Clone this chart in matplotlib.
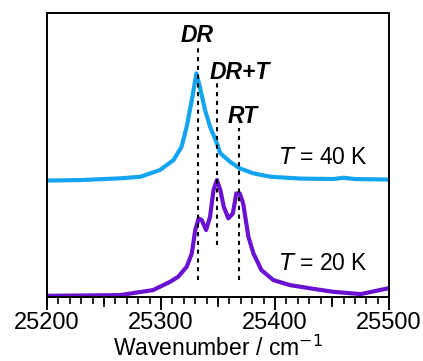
import matplotlib.pyplot as plt
import numpy as np

# spectra (arbitrary offset units)
wn_40k = [25200, 25230, 25264, 25282, 25299, 25311, 25318, 25322.5, 25327, 25331,
          25334, 25338.6, 25343, 25349, 25352, 25360.5, 25369, 25381, 25396, 25422,
          25451, 25460, 25470, 25500]
int_40k = [116.5, 117, 118.7, 120.3, 127, 137, 150.3, 170.3, 197, 223.7,
           210.3, 187, 170.3, 153.7, 143.7, 135.3, 128.7, 123.7, 120.3, 118.5,
           118, 119.3, 118, 117.5]

wn_20k = [25200, 25230, 25264, 25293, 25308, 25315, 25322.5, 25327, 25330, 25333,
          25335.7, 25339.5, 25343, 25346, 25349, 25352, 25355, 25359, 25363, 25366,
          25369, 25372, 25376.6, 25381, 25388, 25398.5, 25413, 25435, 25451, 25475,
          25500]
int_20k = [1.3, 1.6, 2, 7, 15.3, 20.3, 30.3, 43.7, 67, 78.7,
           77, 67, 80.3, 107, 117, 107, 90.3, 78.7, 83.7, 103.7,
           103.7, 93.7, 60.3, 43.7, 27, 17, 12, 8, 5.3, 3,
           9]

# assignments: label, position, dashed line span, label pos
peak_names = ['DR', 'DR+T', 'RT']
peak_pos = [25332, 25349, 25368]
line_top = [249, 214, 169]
line_bot = [17, 52, 17]
label_x = [25332, 25369, 25372]
label_y = [262, 225, 181]

plt.rcParams['font.family'] = ['Liberation Sans', 'DejaVu Sans']

fig = plt.figure(figsize=(4.23, 3.61), dpi=100)
ax = fig.add_axes([0.111, 0.177, 0.809, 0.787])

ax.plot(wn_40k, int_40k, color='#14a5f0', lw=3.0, solid_joinstyle='round')
ax.plot(wn_20k, int_20k, color='#6a12d2', lw=3.0, solid_joinstyle='round')

for p, t, b in zip(peak_pos, line_top, line_bot):
    ax.plot([p, p], [b, t], color='black', lw=1.5, linestyle=(0, (2.0, 2.2)))
for name, lx, ly in zip(peak_names, label_x, label_y):
    ax.text(lx, ly, name, ha='center', va='center', fontsize=16.5,
            fontweight='bold', fontstyle='italic')

ax.text(25403, 140, '$T$ = 40 K', ha='left', va='center', fontsize=16.5)
ax.text(25403, 34, '$T$ = 20 K', ha='left', va='center', fontsize=16.5)

ax.set_xlim(25200, 25500)
ax.set_ylim(0, 284)
ax.set_xticks([25200, 25300, 25400, 25500])
ax.set_xticks(np.arange(25200, 25501, 10), minor=True)
ax.set_yticks([])
ax.tick_params(axis='x', which='major', direction='out', length=9, width=1.4,
               labelsize=17, pad=2)
ax.tick_params(axis='x', which='minor', direction='out', length=5, width=1.2)
sec = ax.secondary_xaxis('bottom')
sec.set_xticks([25250, 25350, 25450])
sec.tick_params(direction='out', length=7, width=1.2, labelbottom=False)
sec.spines['bottom'].set_visible(False)
for s in ax.spines.values():
    s.set_linewidth(1.4)
ax.set_xlabel('Wavenumber / cm$^{-1}$', fontsize=16.5, labelpad=1)
ax.xaxis.label.set_math_fontfamily('dejavusans')

plt.savefig('out.png', dpi=100)
